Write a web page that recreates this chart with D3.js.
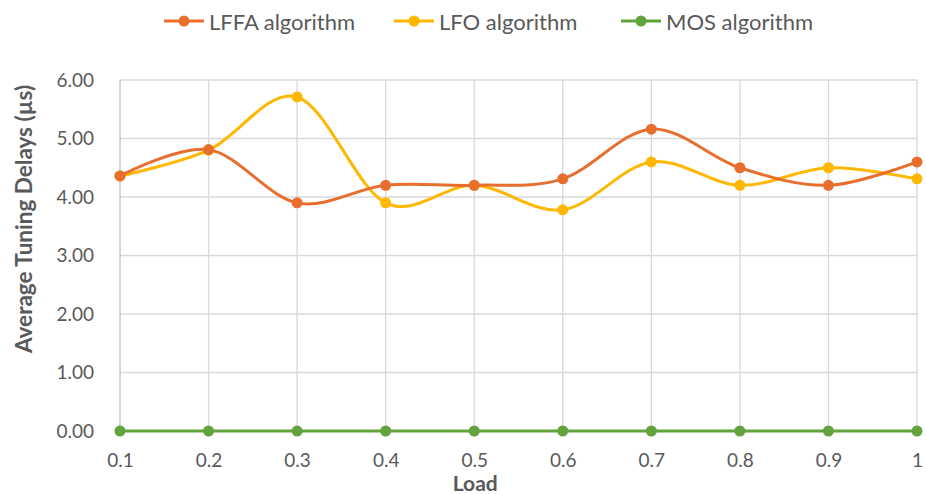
<!DOCTYPE html>
<html>
<head>
<meta charset="utf-8">
<script src="https://cdn.jsdelivr.net/npm/d3@7"></script>
<style>
  html, body { margin: 0; padding: 0; background: #fff; }
  svg { display: block; }
  text { font-family: Lato, "Open Sans", sans-serif; fill: #595959; }
</style>
</head>
<body>
<svg id="chart" width="926" height="494"></svg>
<script>
// Load levels on the x axis
const loads = [0.1, 0.2, 0.3, 0.4, 0.5, 0.6, 0.7, 0.8, 0.9, 1];
const loadLabels = ["0.1", "0.2", "0.3", "0.4", "0.5", "0.6", "0.7", "0.8", "0.9", "1"];

// Average tuning delay (µs) per algorithm
const lffaValues = [4.36, 4.81, 3.90, 4.20, 4.20, 4.31, 5.16, 4.50, 4.20, 4.60];
const lfoValues  = [4.36, 4.80, 5.71, 3.90, 4.20, 3.78, 4.60, 4.20, 4.50, 4.31];
const mosValues  = [0, 0, 0, 0, 0, 0, 0, 0, 0, 0];

const seriesNames  = ["LFFA algorithm", "LFO algorithm", "MOS algorithm"];
const seriesColors = ["#E86E2E", "#FFB700", "#62A33D"];

const yTicks = [0, 1, 2, 3, 4, 5, 6];

const series = [lffaValues, lfoValues, mosValues].map((vals, i) => ({
  name: seriesNames[i],
  color: seriesColors[i],
  points: vals.map((v, j) => ({ x: loads[j], y: v }))
}));

const svg = d3.select("#chart");
const plot = { left: 120, right: 917, top: 80, bottom: 431 };

const x = d3.scaleLinear().domain([0.1, 1]).range([plot.left, plot.right]);
const y = d3.scaleLinear().domain([0, 6]).range([plot.bottom, plot.top]);

// Horizontal gridlines
svg.append("g")
  .selectAll("line")
  .data(yTicks)
  .join("line")
  .attr("x1", plot.left).attr("x2", plot.right)
  .attr("y1", d => y(d)).attr("y2", d => y(d))
  .attr("stroke", "#d9d9d9").attr("stroke-width", 1.3);

// Vertical gridlines
svg.append("g")
  .selectAll("line")
  .data(loads)
  .join("line")
  .attr("x1", d => x(d)).attr("x2", d => x(d))
  .attr("y1", plot.top).attr("y2", plot.bottom)
  .attr("stroke", d => d === loads[0] ? "#bfbfbf" : "#d9d9d9")
  .attr("stroke-width", 1.3);

// Y axis tick labels
const yAxis = d3.axisLeft(y).tickValues(yTicks).tickFormat(d3.format(".2f")).tickSize(0).tickPadding(26);
svg.append("g")
  .attr("transform", `translate(${plot.left},0)`)
  .call(yAxis)
  .call(g => g.select(".domain").remove())
  .call(g => g.selectAll("text")
    .attr("font-family", "Lato, 'Open Sans', sans-serif")
    .attr("font-size", 19).attr("fill", "#595959"));

// X axis tick labels
const xAxis = d3.axisBottom(x).tickValues(loads).tickFormat((d, i) => loadLabels[i]).tickSize(0).tickPadding(23);
svg.append("g")
  .attr("transform", `translate(0,${plot.bottom})`)
  .call(xAxis)
  .call(g => g.select(".domain").remove())
  .call(g => g.selectAll("text")
    .attr("font-family", "Lato, 'Open Sans', sans-serif")
    .attr("font-size", 19).attr("fill", "#595959"));

// Axis titles
svg.append("text")
  .attr("x", x(0.5) + 1).attr("y", 482)
  .attr("text-anchor", "middle").attr("dominant-baseline", "central")
  .attr("font-size", 21).attr("font-weight", "bold")
  .text("Load");

svg.append("text")
  .attr("transform", "translate(23,219) rotate(-90)")
  .attr("text-anchor", "middle").attr("dominant-baseline", "central")
  .attr("font-size", 22.5).attr("font-weight", "bold")
  .text("Average Tuning Delays (µs)");

// Smoothed series lines and markers
const line = d3.line()
  .x(d => x(d.x)).y(d => y(d.y))
  .curve(d3.curveCatmullRom.alpha(0));

const seriesG = svg.append("g")
  .selectAll("g")
  .data(series.slice().reverse())
  .join("g");

seriesG.append("path")
  .attr("d", d => line(d.points))
  .attr("fill", "none")
  .attr("stroke", d => d.color)
  .attr("stroke-width", 3)
  .attr("stroke-linejoin", "round");

seriesG.selectAll("circle")
  .data(d => d.points.map(p => ({ ...p, color: d.color })))
  .join("circle")
  .attr("cx", d => x(d.x)).attr("cy", d => y(d.y))
  .attr("r", 5.5)
  .attr("fill", d => d.color);

// Legend
const legendX = [164, 394, 621];
const legend = svg.append("g")
  .selectAll("g")
  .data(series)
  .join("g")
  .attr("transform", (d, i) => `translate(${legendX[i]},21)`);

legend.append("line")
  .attr("x1", 0).attr("x2", 40).attr("y1", 0).attr("y2", 0)
  .attr("stroke", d => d.color).attr("stroke-width", 3);
legend.append("circle")
  .attr("cx", 20).attr("cy", 0).attr("r", 5.5)
  .attr("fill", d => d.color);
legend.append("text")
  .attr("x", 45).attr("y", 0)
  .attr("dominant-baseline", "central")
  .attr("font-size", 22)
  .text(d => d.name);
</script>
</body>
</html>
